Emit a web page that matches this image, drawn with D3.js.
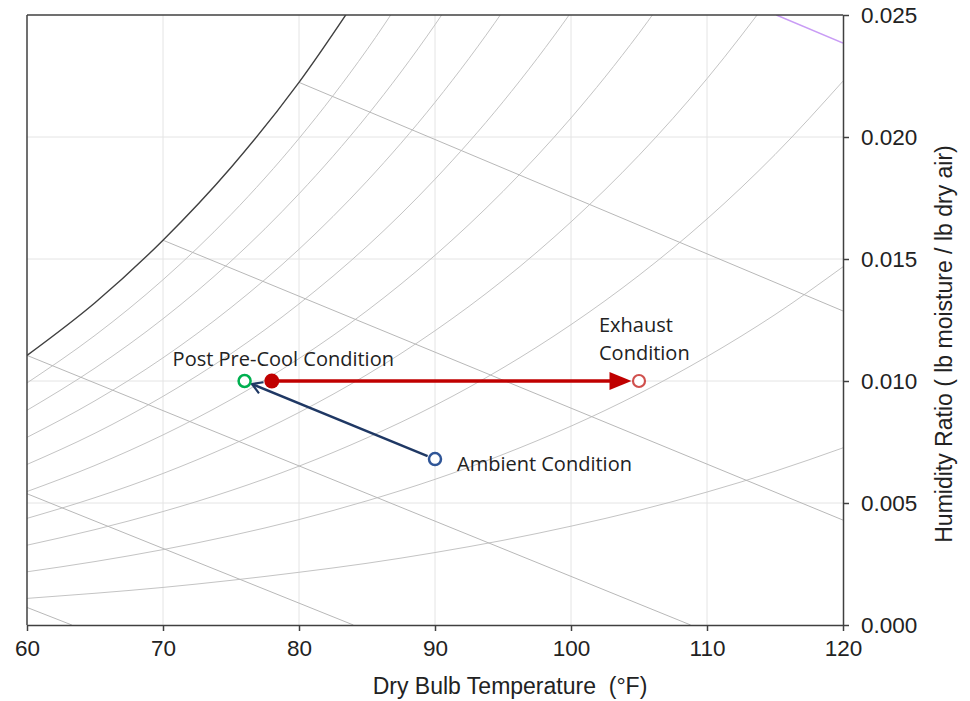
<!DOCTYPE html>
<html>
<head>
<meta charset="utf-8">
<script src="https://cdn.jsdelivr.net/npm/d3@7"></script>
<style>
  body { margin: 0; background: #fff; }
  svg { display: block; }
  .axis text { font-family: "Liberation Sans", Arial, sans-serif; font-size: 22.5px; fill: #222; }
  .axis path, .axis line { stroke: #404040; stroke-width: 1.5; }
  .note { font-family: "Open Sans", sans-serif; font-size: 20px; fill: #222; }
</style>
</head>
<body>
<svg></svg>
<script>
// dry bulb temperatures the curves were read at (°F)
const tempGrid = [60, 65, 70, 75, 80, 85, 90, 95, 100, 105, 110, 115, 120];

// humidity ratio along each relative humidity curve
const rh100 = [0.01105, 0.01321, 0.01577, 0.01875, 0.02224, 0.02631];
const rh90 = [0.00992, 0.01187, 0.01415, 0.01682, 0.01994, 0.02358, 0.02781];
const rh80 = [0.0088, 0.01053, 0.01255, 0.01491, 0.01767, 0.02087, 0.0246, 0.02892];
const rh70 = [0.00769, 0.00919, 0.01095, 0.01301, 0.0154, 0.01819, 0.02142, 0.02516, 0.02949];
const rh60 = [0.00658, 0.00786, 0.00937, 0.01112, 0.01316, 0.01552, 0.01827, 0.02144, 0.02511, 0.02933];
const rh50 = [0.00547, 0.00654, 0.00779, 0.00924, 0.01092, 0.01288, 0.01515, 0.01777, 0.02078, 0.02425, 0.02824];
const rh40 = [0.00437, 0.00522, 0.00621, 0.00737, 0.00871, 0.01026, 0.01206, 0.01413, 0.01652, 0.01925, 0.02239, 0.02597];
const rh30 = [0.00327, 0.00391, 0.00465, 0.00551, 0.00651, 0.00767, 0.009, 0.01054, 0.01231, 0.01433, 0.01664, 0.01928, 0.02229];
const rh20 = [0.00218, 0.0026, 0.00309, 0.00366, 0.00432, 0.00509, 0.00597, 0.00699, 0.00815, 0.00948, 0.011, 0.01272, 0.01468];
const rh10 = [0.00109, 0.0013, 0.00154, 0.00183, 0.00216, 0.00253, 0.00297, 0.00347, 0.00405, 0.0047, 0.00545, 0.0063, 0.00726];

// wet bulb lines: [temp, W] at each end
const wetBulbLines = [
  { wb: 40, from: [60, 0.00072], to: [63.3, 0] },
  { wb: 50, from: [60, 0.00538], to: [84.0, 0] },
  { wb: 60, from: [60, 0.01105], to: [108.8, 0] },
  { wb: 70, from: [70, 0.01577], to: [120, 0.0043] },
  { wb: 80, from: [80, 0.02224], to: [120, 0.01287] },
  { wb: 90, from: [115.1, 0.025], to: [120, 0.02385] },
];

// process states
const stateT = [90, 76, 78, 105];
const stateW = [0.0068, 0.01, 0.01, 0.01];

const xTicks = [60, 70, 80, 90, 100, 110, 120];
const yTicks = [0, 0.005, 0.01, 0.015, 0.02, 0.025];

const width = 970;
const height = 701;
const plotLeft = 27;
const plotRight = 843;
const plotTop = 15;
const plotBottom = 625;

const svg = d3.select("svg").attr("width", width).attr("height", height);

const xScale = d3.scaleLinear().domain([60, 120]).range([plotLeft, plotRight]);
const yScale = d3.scaleLinear().domain([0, 0.025]).range([plotBottom, plotTop]);

svg.append("clipPath").attr("id", "plot-clip")
  .append("rect")
  .attr("x", plotLeft).attr("y", plotTop)
  .attr("width", plotRight - plotLeft).attr("height", plotBottom - plotTop);

// grid
svg.append("g").selectAll("line")
  .data(xTicks.slice(1, -1)).enter().append("line")
  .attr("x1", (d) => xScale(d)).attr("x2", (d) => xScale(d))
  .attr("y1", plotTop).attr("y2", plotBottom)
  .attr("stroke", "#e4e4e4").attr("stroke-width", 1);

svg.append("g").selectAll("line")
  .data(yTicks.slice(1, -1)).enter().append("line")
  .attr("y1", (d) => yScale(d)).attr("y2", (d) => yScale(d))
  .attr("x1", plotLeft).attr("x2", plotRight)
  .attr("stroke", "#e4e4e4").attr("stroke-width", 1);

const plot = svg.append("g").attr("clip-path", "url(#plot-clip)");

const curveLine = d3.line()
  .x((d) => xScale(d[0]))
  .y((d) => yScale(d[1]))
  .curve(d3.curveMonotoneX);

const rhCurves = [rh10, rh20, rh30, rh40, rh50, rh60, rh70, rh80, rh90];
rhCurves.forEach((vals) => {
  plot.append("path")
    .datum(vals.map((w, i) => [tempGrid[i], w]))
    .attr("d", curveLine)
    .attr("fill", "none")
    .attr("stroke", "#c4c4c4")
    .attr("stroke-width", 1);
});

wetBulbLines.forEach((l) => {
  plot.append("line")
    .attr("x1", xScale(l.from[0])).attr("y1", yScale(l.from[1]))
    .attr("x2", xScale(l.to[0])).attr("y2", yScale(l.to[1]))
    .attr("stroke", l.wb === 90 ? "#c99cf5" : "#b8b8b8")
    .attr("stroke-width", l.wb === 90 ? 1.5 : 1);
});

plot.append("path")
  .datum(rh100.map((w, i) => [tempGrid[i], w]))
  .attr("d", curveLine)
  .attr("fill", "none")
  .attr("stroke", "#404040")
  .attr("stroke-width", 1.4);

// frame + axes
svg.append("line").attr("x1", plotLeft).attr("x2", plotRight).attr("y1", plotTop).attr("y2", plotTop)
  .attr("stroke", "#404040").attr("stroke-width", 1.5);
svg.append("line").attr("x1", plotLeft).attr("x2", plotLeft).attr("y1", plotTop).attr("y2", plotBottom)
  .attr("stroke", "#404040").attr("stroke-width", 1.5);

const xAxis = d3.axisBottom(xScale).tickValues(xTicks).tickSize(6).tickSizeOuter(0).tickPadding(9);
const yAxis = d3.axisRight(yScale).tickValues(yTicks).tickSize(6).tickSizeOuter(0).tickPadding(12)
  .tickFormat(d3.format(".3f"));

svg.append("g").attr("class", "axis").attr("transform", `translate(0, ${plotBottom})`).call(xAxis);
svg.append("g").attr("class", "axis").attr("transform", `translate(${plotRight}, 0)`).call(yAxis);

svg.append("text")
  .attr("x", 510).attr("y", 694)
  .attr("text-anchor", "middle")
  .attr("xml:space", "preserve")
  .style("white-space", "pre")
  .style("font-family", "'Liberation Sans', Arial, sans-serif")
  .style("font-size", "23px").style("fill", "#222")
  .text("Dry Bulb Temperature  (°F)");

svg.append("text")
  .attr("transform", "translate(952, 344) rotate(-90)")
  .attr("text-anchor", "middle")
  .style("font-family", "'Liberation Sans', Arial, sans-serif")
  .style("font-size", "23px").style("fill", "#222")
  .text("Humidity Ratio ( lb moisture / lb dry air)");

// arrow head for the pre-cool leg
const defs = svg.append("defs");
defs.append("marker")
  .attr("id", "blue-head").attr("markerUnits", "userSpaceOnUse")
  .attr("markerWidth", 16).attr("markerHeight", 16)
  .attr("viewBox", "-14 -8 16 16").attr("refX", 0).attr("refY", 0)
  .attr("orient", "auto")
  .append("path").attr("d", "M-10,-6 L0,0 L-10,6").attr("fill", "none")
  .attr("stroke", "#1f3864").attr("stroke-width", 2.2);

const pts = stateT.map((t, i) => [xScale(t), yScale(stateW[i])]);

// shorten a segment by r0 at the start and r1 at the end
const trim = (a, b, r0, r1) => {
  const dx = b[0] - a[0], dy = b[1] - a[1];
  const len = Math.hypot(dx, dy);
  return [a[0] + dx * r0 / len, a[1] + dy * r0 / len, b[0] - dx * r1 / len, b[1] - dy * r1 / len];
};

const blue = trim(pts[0], pts[1], 8, 8);
svg.append("line")
  .attr("x1", blue[0]).attr("y1", blue[1]).attr("x2", blue[2]).attr("y2", blue[3])
  .attr("stroke", "#1f3864").attr("stroke-width", 2.5)
  .attr("marker-end", "url(#blue-head)");

const red = trim(pts[2], pts[3], 0, 7.5);
svg.append("line")
  .attr("x1", red[0]).attr("y1", red[1]).attr("x2", red[2] - 14).attr("y2", red[3])
  .attr("stroke", "#c00000").attr("stroke-width", 3.5);
svg.append("path")
  .attr("d", `M${red[2] - 22},${red[3] - 9} L${red[2]},${red[3]} L${red[2] - 22},${red[3] + 9} Z`)
  .attr("fill", "#c00000");

// markers
svg.append("circle").attr("cx", pts[0][0]).attr("cy", pts[0][1]).attr("r", 6)
  .attr("fill", "#fff").attr("stroke", "#2f5597").attr("stroke-width", 2.5);
svg.append("circle").attr("cx", pts[1][0]).attr("cy", pts[1][1]).attr("r", 6)
  .attr("fill", "#fff").attr("stroke", "#00b050").attr("stroke-width", 2.5);
svg.append("circle").attr("cx", pts[2][0]).attr("cy", pts[2][1]).attr("r", 7.5)
  .attr("fill", "#c00000");
svg.append("circle").attr("cx", pts[3][0]).attr("cy", pts[3][1]).attr("r", 6)
  .attr("fill", "#fff").attr("stroke", "#d0504d").attr("stroke-width", 2.2);

// labels
svg.append("text").attr("class", "note")
  .attr("x", pts[1][0] - 72).attr("y", pts[1][1] - 15)
  .text("Post Pre-Cool Condition");
svg.append("text").attr("class", "note")
  .attr("x", pts[0][0] + 22).attr("y", pts[0][1] + 12)
  .text("Ambient Condition");
svg.append("text").attr("class", "note")
  .attr("x", pts[3][0] - 40).attr("y", pts[3][1] - 49)
  .text("Exhaust");
svg.append("text").attr("class", "note")
  .attr("x", pts[3][0] - 40).attr("y", pts[3][1] - 21)
  .text("Condition");
</script>
</body>
</html>
